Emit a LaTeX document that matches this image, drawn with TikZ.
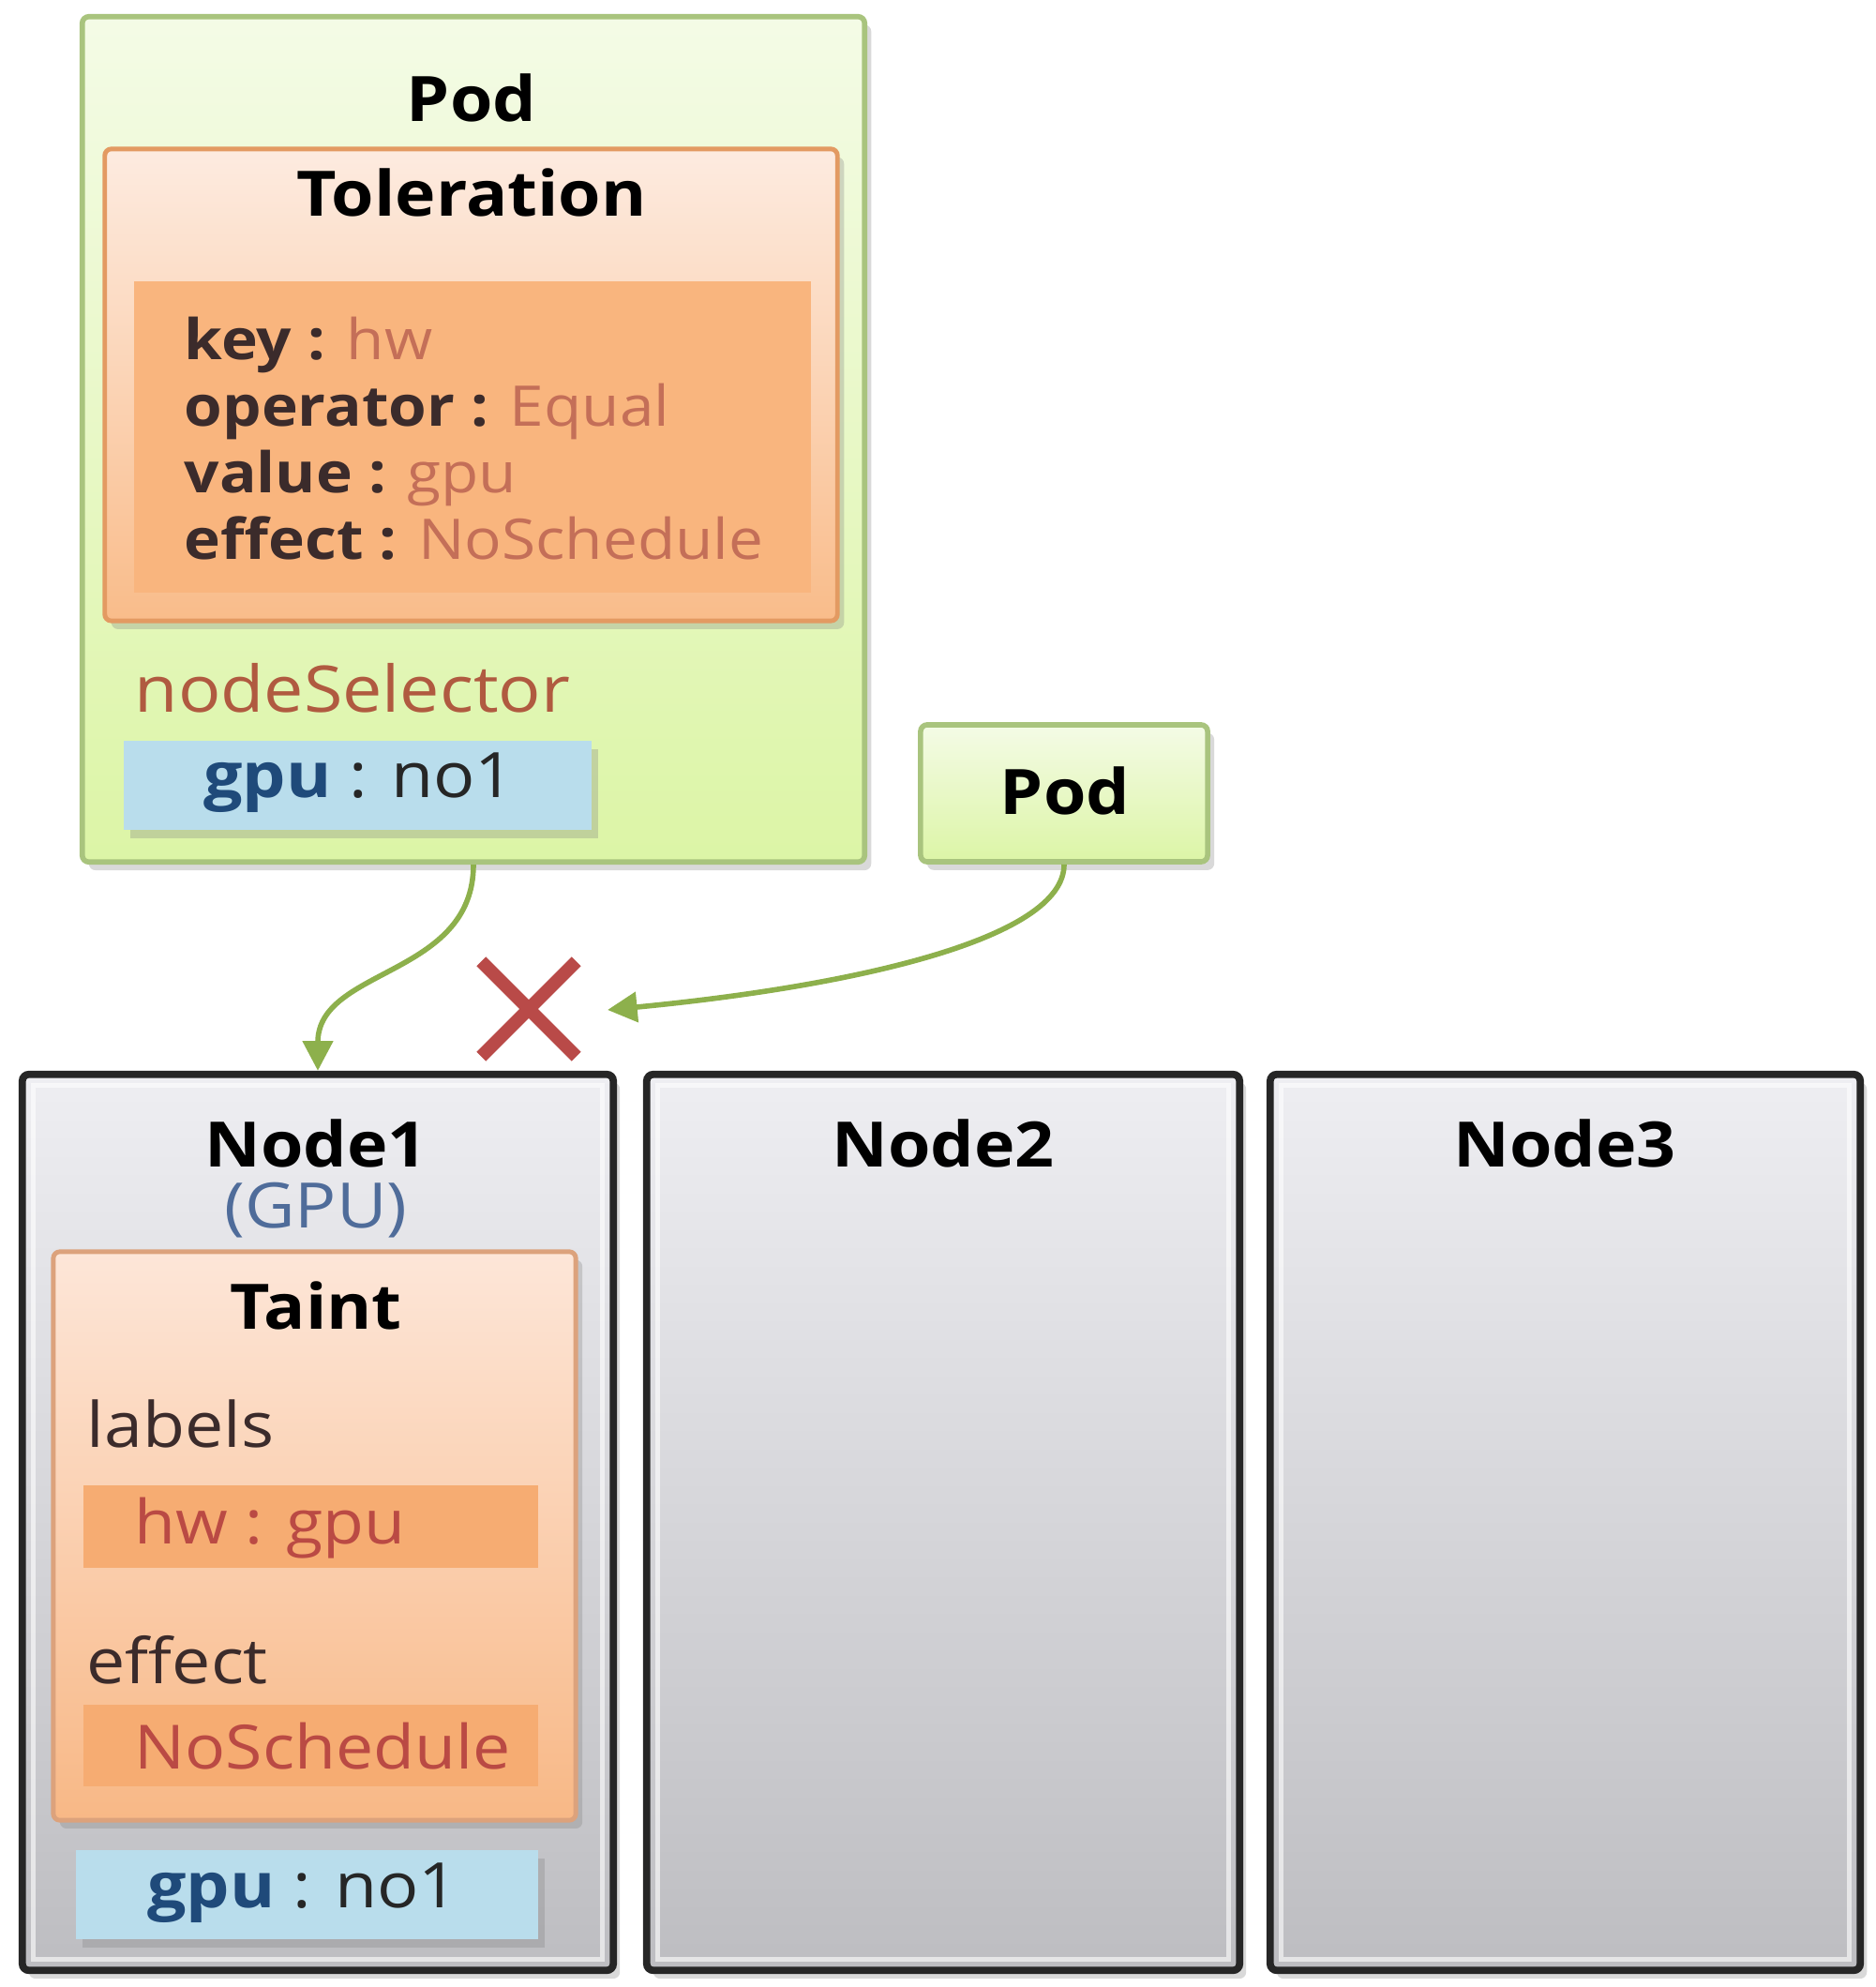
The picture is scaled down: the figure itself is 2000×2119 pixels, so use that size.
\documentclass[tikz,border=0pt]{standalone}
\usepackage{fontspec}
\setmainfont{Open Sans}[FakeStretch=1.1]
\usetikzlibrary{arrows.meta,shadows}
\definecolor{podline}{HTML}{A9C47E}
\definecolor{podtop}{HTML}{F4FBE6}
\definecolor{podbot}{HTML}{DCF5A6}
\definecolor{tolline}{HTML}{E39A62}
\definecolor{toltop}{HTML}{FDEBE0}
\definecolor{tolbot}{HTML}{F9BC8A}
\definecolor{keyfill}{HTML}{F9B57E}
\definecolor{keytext}{HTML}{3B2B2B}
\definecolor{valtext}{HTML}{C46F58}
\definecolor{selcol}{HTML}{B05A40}
\definecolor{bluefill}{HTML}{B9DDEC}
\definecolor{bluetext}{HTML}{1F4A7A}
\definecolor{nodetop}{HTML}{EEEEF2}
\definecolor{nodebot}{HTML}{BDBDC1}
\definecolor{taintline}{HTML}{DCA27C}
\definecolor{tainttop}{HTML}{FDE6D8}
\definecolor{taintbot}{HTML}{F8B886}
\definecolor{labfill}{HTML}{F6AC72}
\definecolor{labtext}{HTML}{BA4A44}
\definecolor{gpucol}{HTML}{4F6C9A}
\definecolor{arrowcol}{HTML}{8DB04C}
\definecolor{crosscol}{HTML}{B94A48}
\tikzset{
  box/.style={rectangle, inner sep=0pt, rounded corners=2pt},
  shadowed/.style={drop shadow={opacity=0.3, shadow xshift=2pt, shadow yshift=-2.5pt}},
  podbox/.style={box, shadowed, draw=podline, line width=1.6pt, top color=podtop, bottom color=podbot},
  tolbox/.style={box, shadowed, draw=tolline, line width=1.4pt, top color=toltop, bottom color=tolbot},
  keybox/.style={box, rounded corners=0pt, fill=keyfill},
  bluebox/.style={box, rounded corners=0pt, shadowed, fill=bluefill},
  nodebox/.style={box, shadowed, draw=black!85, line width=2.2pt, top color=nodetop, bottom color=nodebot},
  innerframe/.style={draw=white, opacity=0.6, line width=1.5pt, inner sep=0pt},
  taintbox/.style={box, shadowed, draw=taintline, line width=1.4pt, top color=tainttop, bottom color=taintbot},
  labbox/.style={box, rounded corners=0pt, fill=labfill},
  title/.style={font=\fontsize{19}{22}\selectfont\bfseries, text=black, inner sep=0pt},
  plain/.style={font=\fontsize{19}{23}\selectfont, text=keytext, inner sep=0pt},
  conn/.style={draw=arrowcol, line width=1.6pt, -{Triangle[width=9pt, length=9pt]}},
  crossline/.style={draw=crosscol, line width=4pt}
}
\begin{document}
\begin{tikzpicture}[x=0.01cm, y=-0.01cm]
\useasboundingbox (0,0) rectangle (2000,2119);

% big pod
\node[podbox, minimum width=8.34cm, minimum height=9.01cm] (podA) at (505,468.5) {};
\node[title] (podAt) at (503,104) {Pod};
\node[tolbox, minimum width=7.81cm, minimum height=5.03cm] (tol) at (502.5,410.5) {};
\node[title] (tolt) at (503,205) {Toleration};
\node[keybox, minimum width=7.22cm, minimum height=3.32cm] (tolkeys) at (504,466) {};
\node[font=\fontsize{17}{20.2}\selectfont, text=keytext, align=left, anchor=west, inner sep=0pt] (tollist) at (196,468)
  {\textbf{key :} \textcolor{valtext}{hw}\\
   \textbf{operator :} \textcolor{valtext}{Equal}\\
   \textbf{value :} \textcolor{valtext}{gpu}\\
   \textbf{effect :} \textcolor{valtext}{NoSchedule}};
\node[font=\fontsize{19.5}{24}\selectfont, text=selcol, anchor=west, inner sep=0pt] (sel) at (143,734) {nodeSelector};
\node[bluebox, minimum width=4.99cm, minimum height=0.95cm] (selbox) at (381.5,837.5) {};
\node[font=\fontsize{19}{23}\selectfont, inner sep=0pt] (selt) at (383,835) {\textcolor{bluetext}{\bfseries gpu} \textcolor{black!85}{: no1}};

% small pod
\node[podbox, minimum width=3.06cm, minimum height=1.46cm] (podB) at (1135,846) {};
\node[title] (podBt) at (1136,843) {Pod};

% nodes
\node[nodebox, minimum width=6.30cm, minimum height=9.55cm] (node1) at (339,1623.5) {};
\node[nodebox, minimum width=6.32cm, minimum height=9.55cm] (node2) at (1006,1623.5) {};
\node[nodebox, minimum width=6.29cm, minimum height=9.55cm] (node3) at (1669.5,1623.5) {};
\node[innerframe, minimum width=6.06cm, minimum height=9.31cm] (node1f) at (node1) {};
\node[innerframe, minimum width=6.08cm, minimum height=9.31cm] (node2f) at (node2) {};
\node[innerframe, minimum width=6.05cm, minimum height=9.31cm] (node3f) at (node3) {};
\node[title] (node1t) at (337,1219) {Node1};
\node[title] (node2t) at (1006,1219) {Node2};
\node[title] (node3t) at (1669,1219) {Node3};
\node[font=\fontsize{19}{22}\selectfont, text=gpucol, inner sep=0pt] (gpul) at (337,1291) {(GPU)};

% taint
\node[taintbox, minimum width=5.57cm, minimum height=6.06cm] (taint) at (335.5,1638) {};
\node[title] (taintt) at (337,1392) {Taint};
\node[plain, anchor=west] (labels) at (92,1518) {labels};
\node[labbox, minimum width=4.85cm, minimum height=0.88cm] (hwbox) at (331.5,1628) {};
\node[font=\fontsize{18.5}{23}\selectfont, text=labtext, anchor=west, inner sep=0pt] (hwt) at (143,1630) {hw : gpu};
\node[plain, anchor=west] (effect) at (92,1770) {effect};
\node[labbox, minimum width=4.85cm, minimum height=0.87cm] (nsbox) at (331.5,1861.5) {};
\node[font=\fontsize{18.5}{23}\selectfont, text=labtext, anchor=west, inner sep=0pt] (nst) at (143,1862) {NoSchedule};
\node[bluebox, minimum width=4.93cm, minimum height=0.95cm] (n1box) at (327.5,2020.5) {};
\node[font=\fontsize{19}{23}\selectfont, inner sep=0pt] (n1t) at (323,2019) {\textcolor{bluetext}{\bfseries gpu} \textcolor{black!85}{: no1}};

% blocked marker
\node[minimum size=1.0cm, inner sep=0pt] (cross) at (564,1076) {};
\draw[crossline] (cross.north west) -- (cross.south east);
\draw[crossline] (cross.north east) -- (cross.south west);
\coordinate (blocked) at (648,1077);

% connectors
\draw[conn] (podA.south) .. controls +(0,120) and +(0,-110) .. (node1.north);
\draw[conn] (podB.south) .. controls +(0,80) and +(260,-25) .. (blocked);
\end{tikzpicture}
\end{document}
